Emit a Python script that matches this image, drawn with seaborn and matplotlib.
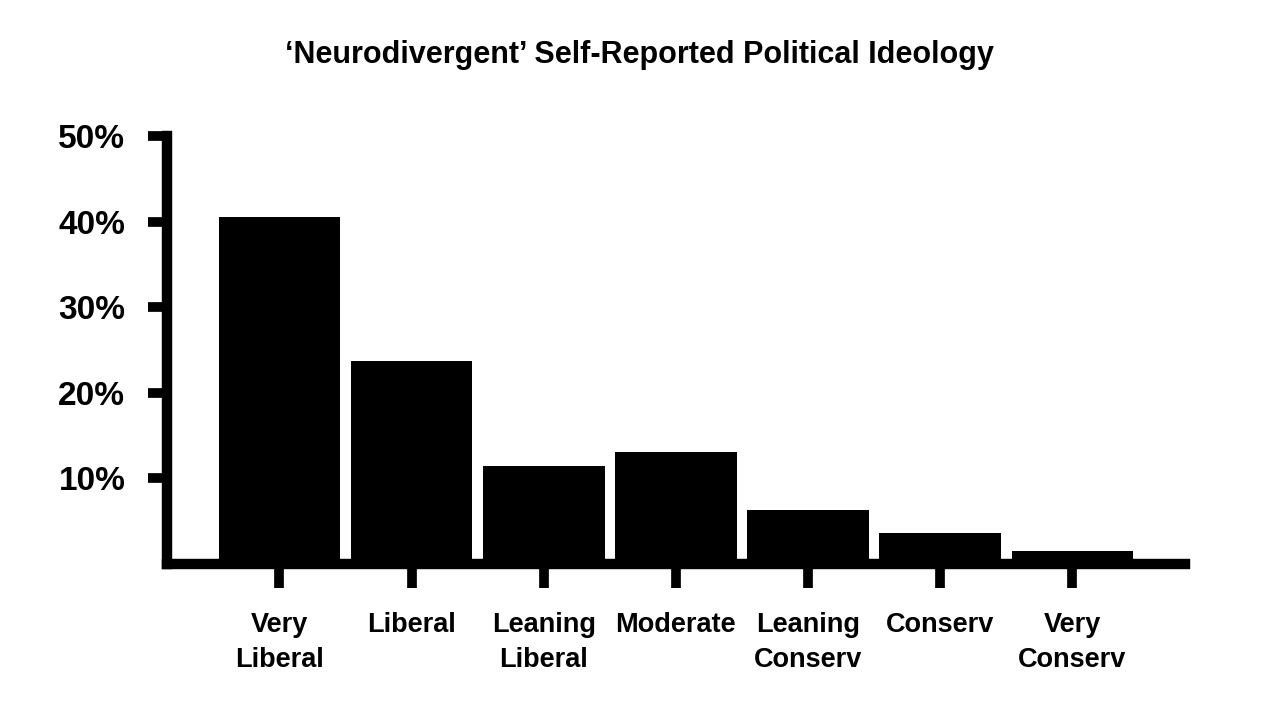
import matplotlib
matplotlib.use("Agg")
import matplotlib.pyplot as plt
import seaborn as sns
import pandas as pd

categories = ["Very\nLiberal", "Liberal", "Leaning\nLiberal", "Moderate",
              "Leaning\nConserv", "Conserv", "Very\nConserv"]
values = [40.5, 23.7, 11.4, 13.1, 6.3, 3.6, 1.5]
yticks = [10, 20, 30, 40, 50]
ytick_labels = ["10%", "20%", "30%", "40%", "50%"]
title = "\u2018Neurodivergent\u2019 Self-Reported Political Ideology"

sns.set_style("white")
plt.rcParams['font.family'] = ['Liberation Sans', 'DejaVu Sans']
plt.rcParams['text.color'] = 'black'
plt.rcParams['xtick.color'] = 'black'
plt.rcParams['ytick.color'] = 'black'

df = pd.DataFrame({"cat": categories, "val": values})

fig = plt.figure(figsize=(12.78, 7.06), dpi=100)
ax = fig.add_axes([0.1307, 0.2018, 0.927 - 0.1307, 0.807 - 0.2018])
sns.barplot(data=df, x="cat", y="val", color="black", saturation=1,
            width=0.92, ax=ax, edgecolor="none")

ax.set_xlim(-0.85, 6.85)
ax.set_ylim(0, 50)
ax.set_yticks(yticks)
ax.set_yticklabels(ytick_labels, fontsize=24, fontweight="bold", color="black")
ax.set_xticks(range(len(categories)))
ax.set_xticklabels(categories, fontsize=19.5, fontweight="bold", linespacing=1.45,
                   color="black")
ax.set_xlabel("")
ax.set_ylabel("")

for s in ["top", "right"]:
    ax.spines[s].set_visible(False)
for s in ["left", "bottom"]:
    ax.spines[s].set_linewidth(7.5)
    ax.spines[s].set_color("black")
    ax.spines[s].set_capstyle("projecting")
    ax.spines[s].set_zorder(5)

ax.tick_params(axis="y", direction="out", length=14, width=7, color="black",
               pad=16, left=True)
ax.tick_params(axis="x", direction="out", length=17, width=7, color="black",
               pad=18, bottom=True)

fig.text(0.5, 1 - 55 / 706, title, ha="center", va="center",
         fontsize=22, fontweight="bold", color="black")

fig.savefig("out.png", dpi=100, facecolor="white")
